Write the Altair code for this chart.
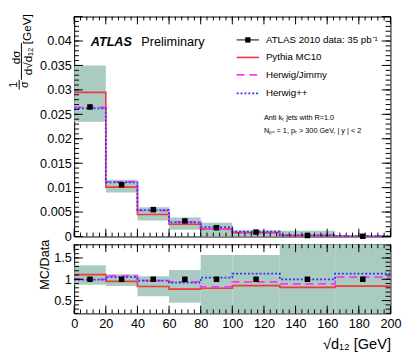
import altair as alt
import pandas as pd

# ---------------- data ----------------
edges = [0, 20, 40, 60, 80, 100, 130, 165, 200]
centers = [10, 30, 50, 70, 90, 115, 147.5, 182.5]

data_val = [0.0265, 0.0106, 0.0055, 0.0032, 0.0018, 0.0009, 0.00021, 0.00005]
data_err = [0.0003, 0.0002, 0.00012, 0.0001, 0.00008, 0.00005, 0.00002, 0.00001]
band_lo = [0.0235, 0.0090, 0.0033, 0.0014, 0.0, 0.0, 0.0, 0.0]
band_hi = [0.0350, 0.0116, 0.0060, 0.0039, 0.0028, 0.0013, 0.0012, 0.0001]
pythia = [0.0295, 0.0101, 0.0045, 0.0025, 0.0015, 0.00077, 0.00017, 0.00004]
herwig = [0.0264, 0.0112, 0.0053, 0.0030, 0.0015, 0.00085, 0.00019, 0.00005]
herwigpp = [0.0262, 0.0111, 0.0054, 0.0029, 0.0019, 0.00100, 0.00021, 0.00006]

ratio_band_lo = [0.87, 0.84, 0.60, 0.45, 0.2, 0.2, 0.2, 0.2]
ratio_band_hi = [1.33, 1.12, 1.07, 1.22, 1.57, 1.57, 1.82, 1.82]
ratio_pythia = [1.11, 0.95, 0.83, 0.77, 0.79, 0.85, 0.81, 0.84]
ratio_herwig = [1.00, 1.08, 0.97, 0.94, 0.82, 0.94, 0.89, 1.05]
ratio_herwigpp = [0.99, 1.05, 0.97, 0.92, 1.04, 1.13, 1.00, 1.13]
ratio_data = [1, 1, 1, 1, 1, 1, 1, 1]

series_names = ["ATLAS 2010 data:  35 pb\u207b\u00b9", "Pythia MC10", "Herwig/Jimmy", "Herwig++"]
top_y_labels = [0, 0.005, 0.01, 0.015, 0.02, 0.025, 0.03, 0.035, 0.04]
ratio_y_labels = [0.5, 1, 1.5]
x_labels = [0, 20, 40, 60, 80, 100, 120, 140, 160, 180, 200]

# ---------------- styling ----------------
FONT = "Liberation Sans"
BAND = "#aacbbf"
RED = "#f23a3a"
MAG = "#ff33ff"
BLUE = "#3333ff"
W = 325
H_TOP = 226
H_BOT = 71

xscale = alt.Scale(domain=[0, 200], nice=False, zero=False)
ytop = alt.Scale(domain=[0, 0.045], nice=False, zero=False)
ybot = alt.Scale(domain=[0.2, 1.82], nice=False, zero=False)

one = pd.DataFrame({"a": [0]})

x_minor = list(range(0, 201, 4))
x_major = list(range(0, 201, 20))
ytop_minor = [round(i * 0.001, 3) for i in range(46)]
ytop_major = [round(i * 0.005, 3) for i in range(10)]
ybot_minor = [round(0.2 + i * 0.1, 2) for i in range(17)]
ybot_major = [0.5, 1.0, 1.5]

top_x_axis = None
top_y_axis = alt.Axis(values=top_y_labels, format="~g", ticks=False, domain=False, grid=False,
                      labelPadding=3, labelFlush=False, title=None)
bot_y_axis = alt.Axis(values=ratio_y_labels, format="~g", ticks=False, domain=False, grid=False,
                      labelPadding=3, labelFlush=False, title=None)
bot_x_axis = alt.Axis(values=x_labels, ticks=False, domain=False, grid=False, labelPadding=5,
                      labelFlush=False, title="\u221ad\u2081\u2082 [GeV]", titleAnchor="end",
                      titleFontSize=15, titleFontWeight="normal", titlePadding=6)


def band_layer(lo, hi, yscale, xax, yax):
    df = pd.DataFrame({"x0": edges[:-1], "x1": edges[1:], "lo": lo, "hi": hi})
    return alt.Chart(df).mark_rect(color=BAND, clip=True).encode(
        x=alt.X("x0:Q", scale=xscale, axis=xax),
        x2="x1:Q",
        y=alt.Y("lo:Q", scale=yscale, axis=yax),
        y2="hi:Q",
    )


def step_layer(vals, yscale, xax, yax, color, dash, width=1.7):
    df = pd.DataFrame({"x": edges, "y": vals + [vals[-1]]})
    kw = dict(interpolate="step-after", color=color, strokeWidth=width, clip=True)
    if dash:
        kw["strokeDash"] = dash
    return alt.Chart(df).mark_line(**kw).encode(
        x=alt.X("x:Q", scale=xscale, axis=xax),
        y=alt.Y("y:Q", scale=yscale, axis=yax),
    )


def data_layers(vals, errs, yscale, xax, yax):
    df = pd.DataFrame({"x": centers, "y": vals,
                       "lo": [v - e for v, e in zip(vals, errs)],
                       "hi": [v + e for v, e in zip(vals, errs)]})
    err = alt.Chart(df).mark_rule(color="black", strokeWidth=1.2).encode(
        x=alt.X("x:Q", scale=xscale, axis=xax),
        y=alt.Y("lo:Q", scale=yscale, axis=yax),
        y2="hi:Q",
    )
    pts = alt.Chart(df).mark_square(color="black", size=32, opacity=1).encode(
        x=alt.X("x:Q", scale=xscale, axis=xax),
        y=alt.Y("y:Q", scale=yscale, axis=yax),
    )
    return [err, pts]


def tick_layers(xs_minor, xs_major, ys_minor, ys_major, yscale, h, xax, yax):
    layers = []
    for vals, ln in ((xs_minor, 4), (xs_major, 8)):
        df = pd.DataFrame({"v": vals})
        for y0, y1 in ((h, h - ln), (0, ln)):
            layers.append(alt.Chart(df).mark_rule(color="black", strokeWidth=1).encode(
                x=alt.X("v:Q", scale=xscale, axis=xax),
                y=alt.value(y0), y2=alt.value(y1)))
    for vals, ln in ((ys_minor, 5), (ys_major, 9)):
        df = pd.DataFrame({"v": vals})
        for x0, x1 in ((0, ln), (W, W - ln)):
            layers.append(alt.Chart(df).mark_rule(color="black", strokeWidth=1).encode(
                y=alt.Y("v:Q", scale=yscale, axis=yax),
                x=alt.value(x0), x2=alt.value(x1)))
    return layers


def text(t, x, y, size=10, angle=0, align="left", weight="normal", style="normal", baseline="middle"):
    return alt.Chart(one).mark_text(text=t, font=FONT, fontSize=size, angle=angle,
                                    align=align, baseline=baseline, fontWeight=weight,
                                    fontStyle=style, color="black").encode(
        x=alt.value(x), y=alt.value(y))


def vrule(x, y0, y1, color="black", width=1):
    return alt.Chart(one).mark_rule(color=color, strokeWidth=width).encode(
        x=alt.value(x), y=alt.value(y0), y2=alt.value(y1))


def hrule(x0, x1, y, color, width, dash=None):
    kw = dict(color=color, strokeWidth=width)
    if dash:
        kw["strokeDash"] = dash
    return alt.Chart(one).mark_rule(**kw).encode(
        x=alt.value(x0), x2=alt.value(x1), y=alt.value(y))


# ---------------- top panel ----------------
TX_, TY_ = top_x_axis, top_y_axis
top_layers = [band_layer(band_lo, band_hi, ytop, TX_, TY_),
              step_layer(pythia, ytop, TX_, TY_, RED, None),
              step_layer(herwig, ytop, TX_, TY_, MAG, [8, 5], 1.8),
              step_layer(herwigpp, ytop, TX_, TY_, BLUE, [2, 2], 1.8)]
top_layers += data_layers(data_val, data_err, ytop, TX_, TY_)
top_layers += tick_layers(x_minor, x_major, ytop_minor, ytop_major, ytop, H_TOP, TX_, TY_)

# y title (fraction)
top_layers += [
    text("d\u03c3", -59.5, 42, 12, 270, "center"),
    vrule(-54.2, 27, 65),
    text("d\u221ad\u2081\u2082", -47.5, 46, 12, 270, "center"),
    text("[GeV]", -48, 13, 12, 270, "center"),
    text("1", -61.5, 70, 11, 270, "center"),
    vrule(-56.5, 65, 75),
    text("\u03c3", -50.5, 70, 11, 270, "center"),
]

# ATLAS label
top_layers += [
    text("ATLAS", 17, 26, 13, 0, "left", "bold", "italic"),
    text("Preliminary", 69, 26, 13, 0, "left"),
]

# legend
LX0, LX1, TX = 167, 190, 197
rows = [24, 42, 60, 79]
top_layers += [
    hrule(LX0, LX1, rows[0], "black", 1),
    alt.Chart(one).mark_square(color="black", size=30, opacity=1).encode(
        x=alt.value((LX0 + LX1) / 2), y=alt.value(rows[0])),
    hrule(LX0, LX1, rows[1], RED, 1.7),
    hrule(LX0, LX1, rows[2], MAG, 1.8, [8, 5]),
    hrule(LX0, LX1, rows[3], BLUE, 1.8, [2, 2]),
]
for name, ry in zip(series_names, rows):
    top_layers.append(text(name, TX, ry, 10))
top_layers += [
    text("Anti k\u209c jets with R=1.0", 195, 104, 7.5),
    text("N\u209a\u1d65 = 1, p\u209c > 300 GeV, | y | < 2", 195, 118, 7.5),
]

top = alt.layer(*top_layers).properties(width=W, height=H_TOP)

# ---------------- ratio panel ----------------
BX_, BY_ = bot_x_axis, bot_y_axis
bot_layers = [
    band_layer(ratio_band_lo, ratio_band_hi, ybot, BX_, BY_),
    step_layer(ratio_pythia, ybot, BX_, BY_, RED, None),
    step_layer(ratio_herwig, ybot, BX_, BY_, MAG, [8, 5], 1.8),
    step_layer(ratio_herwigpp, ybot, BX_, BY_, BLUE, [2, 2], 1.8),
]
bot_layers += data_layers(ratio_data, [0.01] * 8, ybot, BX_, BY_)
bot_layers += tick_layers(x_minor, x_major, ybot_minor, ybot_major, ybot, H_BOT, BX_, BY_)
bot_layers.append(text("MC/Data", -29.5, 21, 13, 270, "center"))

bottom = alt.layer(*bot_layers).properties(width=W, height=H_BOT)

chart = alt.vconcat(top, bottom, spacing=8, bounds="flush").properties(
    padding={"left": 0, "top": 1, "right": 5, "bottom": 0},
    background="white",
).configure_view(stroke="black", strokeWidth=1).configure_axis(
    labelFont=FONT, labelFontSize=13, labelColor="black", titleFont=FONT, titleColor="black"
)

chart.save("out.html", embed_options={"renderer": "svg", "actions": False})
